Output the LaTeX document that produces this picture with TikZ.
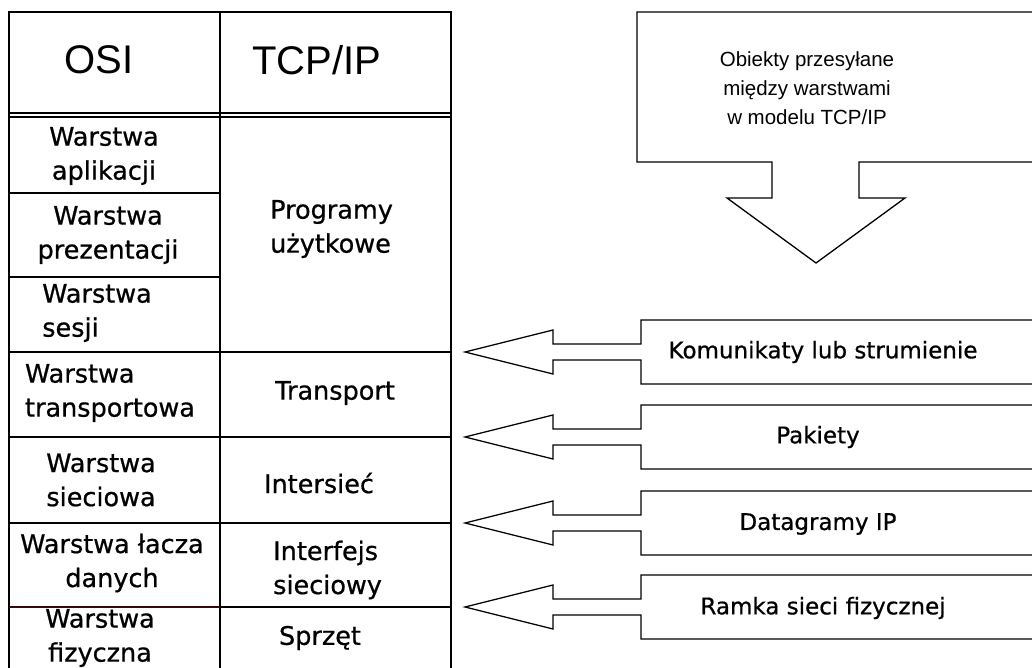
\documentclass[tikz,border=0pt]{standalone}
\usepackage{fontspec}
\setmainfont{DejaVu Sans}
\newfontfamily\headfont{Liberation Sans}
\newfontfamily\thickfont[FakeBold=0.7]{DejaVu Sans}
\definecolor{darkrule}{RGB}{55,8,8}

\begin{document}
\begin{tikzpicture}[
    x=1pt, y=-1pt,
    grid/.style={line width=1.6pt},
    outline/.style={line width=1.3pt, line join=miter},
    cell/.style={inner sep=0pt, align=center, font=\thickfont\fontsize{25.5}{34}\selectfont},
    head/.style={inner sep=0pt, font=\headfont\fontsize{40}{48}\selectfont},
    tag/.style={inner sep=0pt, font=\thickfont\fontsize{23}{28}\selectfont},
    note/.style={inner sep=0pt, align=center, font=\headfont\fontsize{20.5}{29}\selectfont}
  ]
    \useasboundingbox (0,0) rectangle (1032,668);
    \fill[white] (0,0) rectangle (1032,668);
    \clip (0,0) rectangle (1032,668);

    % table grid
    \draw[grid] (9,680) -- (9,12) -- (451,12) -- (451,680);
    \draw[grid] (220,12) -- (220,680);
    \draw[grid] (9,113) -- (451,113);
    \draw[grid] (9,117) -- (451,117);
    \draw[grid] (9,193) -- (220,193);
    \draw[grid] (9,277) -- (220,277);
    \foreach \y in {352,437,523,607}
      \draw[grid] (9,\y) -- (451,\y);
    \draw[line width=2.4pt, draw=darkrule] (9,607) -- (220,607);

    \node[head] (osi) at (99,60) {OSI};
    \node[head] (tcpip) at (317,60) {TCP/IP};

    \node[cell] (app) at (104,156) {Warstwa\\aplikacji};
    \node[cell] (pres) at (108,235) {Warstwa\\prezentacji};
    \node[cell, align=left] (sess) at (97,313) {Warstwa\\sesji};
    \node[cell, align=left] (transl) at (110,393) {Warstwa\\transportowa};
    \node[cell] (netl) at (101,480) {Warstwa\\sieciowa};
    \node[cell] (linkl) at (112,563) {Warstwa łacza\\danych};
    \node[cell] (physl) at (100,638) {Warstwa\\fizyczna};

    \node[cell, anchor=west, align=left] (progs) at (270,229) {Programy\\użytkowe};
    \node[cell] (transp) at (335,393) {Transport};
    \node[cell] (inet) at (319,483) {Intersieć};
    \node[cell, anchor=west, align=left] (iface) at (273,570) {Interfejs\\sieciowy};
    \node[cell] (hw) at (320,638) {Sprzęt};

    % objects box with down arrow
    \draw[outline] (1040,12) -- (637,12) -- (637,162) -- (772,162) -- (772,198) -- (727,198)
      -- (816,263) -- (905,198) -- (859,198) -- (859,162) -- (1040,162);
    \node[note] (objs) at (807,88) {Obiekty przesyłane\\między warstwami\\w modelu TCP/IP};

    % boxes with left arrows
    \foreach \c in {352,437,523,607}
      \draw[outline] (1040,{\c-32}) -- (641,{\c-32}) -- (641,{\c-8}) -- (553,{\c-8}) -- (553,{\c-22})
        -- (465,\c) -- (553,{\c+22}) -- (553,{\c+8}) -- (641,{\c+8}) -- (641,{\c+32}) -- (1040,{\c+32});

    \node[tag] (msg) at (823,352) {Komunikaty lub strumienie};
    \node[tag] (pkt) at (818,437) {Pakiety};
    \node[tag] (dgram) at (818,524) {Datagramy IP};
    \node[tag] (frame) at (823,608) {Ramka sieci fizycznej};
  \end{tikzpicture}
\end{document}
